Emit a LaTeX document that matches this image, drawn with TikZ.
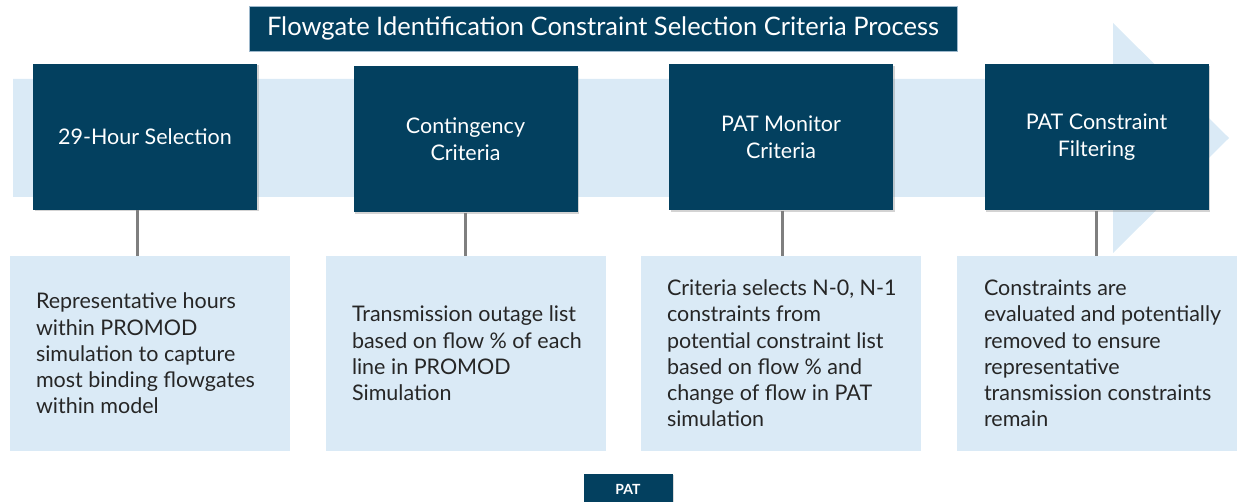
\documentclass[tikz,border=0pt]{standalone}
\usepackage{fontspec}
\setmainfont{Lato}
\usepackage{xcolor}
\usepackage{tikz}
\usetikzlibrary{positioning, shadows}
\definecolor{navy}{HTML}{03405F}
\definecolor{paleblue}{HTML}{DAEAF6}
\definecolor{bodytext}{HTML}{262626}
\definecolor{stem}{HTML}{7F7F7F}
\definecolor{rim}{HTML}{9DB8CC}

\begin{document}
\begin{tikzpicture}[x=1pt, y=-1pt,
    banner/.style={rectangle, draw=rim, line width=0.8pt, fill=navy, text=white,
                   minimum width=708pt, minimum height=45pt,
                   font=\fontsize{25.5}{28}\selectfont},
    stage/.style={rectangle, fill=navy, text=white, align=center,
                  minimum width=224pt, minimum height=146pt, inner sep=4pt,
                  font=\fontsize{21.5}{27}\selectfont,
                  drop shadow={shadow xshift=1.5pt, shadow yshift=-1.5pt,
                               opacity=0.35}},
    infobox/.style={rectangle, fill=paleblue, minimum width=280pt,
                    minimum height=195pt},
    infotext/.style={anchor=west, align=left, inner sep=0pt, text=bodytext,
                     font=\fontsize{21.5}{26.25}\selectfont},
    tag/.style={rectangle, fill=navy, text=white, minimum width=89pt,
                minimum height=30pt, font=\fontsize{14}{16}\selectfont\bfseries,
                drop shadow={shadow xshift=1pt, shadow yshift=-1pt, opacity=0.3}},
    link/.style={draw=stem, line width=3pt}
  ]
    \useasboundingbox (0,0) rectangle (1238,502);

    % Process band
    \fill[paleblue] (13,79) -- (1113,79) -- (1113,23) -- (1229,138)
      -- (1113,253) -- (1113,197) -- (13,197) -- cycle;

    % Title
    \node[banner] (title) at (603,28.5)
      {Flowgate Identification Constraint Selection Criteria Process};

    % Detail boxes
    \node[infobox] (hourbox) at (150,353.5) {};
    \node[infobox] (contbox) at (466,353.5) {};
    \node[infobox] (monbox) at (781,353.5) {};
    \node[infobox] (filtbox) at (1097,353.5) {};

    \node[infotext] (hourtxt) at ([xshift=26pt]hourbox.west)
      {Representative hours\\within PROMOD\\simulation to capture\\most binding flowgates\\within model};
    \node[infotext] (conttxt) at ([xshift=26pt]contbox.west)
      {Transmission outage list\\based on flow \% of each\\line in PROMOD\\Simulation};
    \node[infotext] (montxt) at ([xshift=26pt]monbox.west)
      {Criteria selects N-0, N-1\\constraints from\\potential constraint list\\based on flow \% and\\change of flow in PAT\\simulation};
    \node[infotext] (filttxt) at ([xshift=27pt]filtbox.west)
      {Constraints are\\evaluated and potentially\\removed to ensure\\representative\\transmission constraints\\remain};

    % Stages
    \node[stage] (hour) at (145,137) {29-Hour Selection};
    \node[stage] (cont) at (465.5,139.5) {Contingency\\Criteria};
    \node[stage] (mon) at (781,137.5) {PAT Monitor\\Criteria};
    \node[stage] (filt) at (1096.5,137.5) {PAT Constraint\\Filtering};

    % Stems
    \draw[link] ([xshift=-8pt]hour.south) -- ([xshift=-8pt]hour.south |- hourbox.north);
    \draw[link] (cont.south) -- (cont.south |- contbox.north);
    \draw[link] ([xshift=1pt]mon.south) -- ([xshift=1pt]mon.south |- monbox.north);
    \draw[link] (filt.south) -- (filt.south |- filtbox.north);

    % Footer tag
    \node[tag] (pat) at (628,489) {PAT};
  \end{tikzpicture}
\end{document}
